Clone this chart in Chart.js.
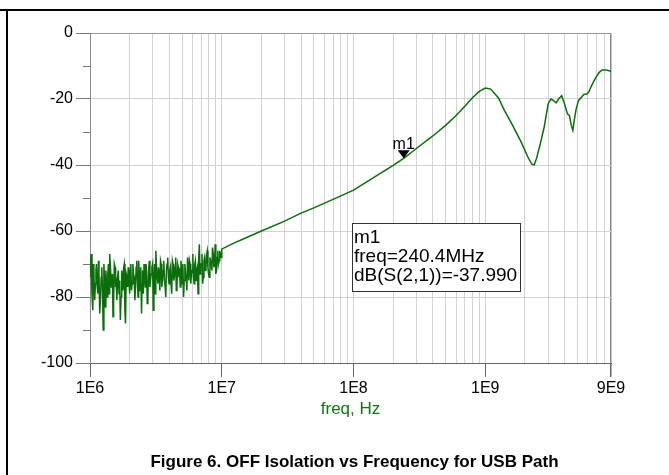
<!DOCTYPE html>
<html>
<head>
<meta charset="utf-8">
<title>OFF Isolation vs Frequency</title>
<script src="https://cdn.jsdelivr.net/npm/chart.js@4/dist/chart.umd.min.js"></script>
<style>
  body { margin: 0; background: #fff; }
  #wrap { position: relative; width: 669px; height: 475px; overflow: hidden; }
  #topline { position: absolute; left: 0; top: 9px; width: 669px; height: 2px; background: #000; }
  #leftline { position: absolute; left: 6px; top: 9px; width: 2px; height: 470px; background: #000; }
  #caption { position: absolute; left: 20px; top: 452px; width: 669px; text-align: center;
             font: bold 17px "Liberation Sans", Arial, sans-serif; color: #000; }
  canvas { position: absolute; left: 0; top: 0; }
</style>
</head>
<body>
<div id="wrap">
  <canvas id="chart" width="669" height="475"></canvas>
  <div id="topline"></div>
  <div id="leftline"></div>
  <div id="caption">Figure 6. OFF Isolation vs Frequency for USB Path</div>
</div>
<script>
// noisy low-frequency part, 1 MHz .. 10 MHz
const noiseMHz = [1.00,1.02,1.05,1.07,1.10,1.12,1.15,1.17,1.20,1.23,1.26,1.29,1.32,1.35,1.38,1.41,1.45,1.48,1.51,1.55,
  1.58,1.62,1.66,1.70,1.74,1.78,1.82,1.86,1.91,1.95,2.00,2.04,2.09,2.14,2.19,2.24,2.29,2.34,2.40,2.46,
  2.51,2.57,2.63,2.69,2.75,2.82,2.88,2.95,3.02,3.09,3.16,3.24,3.31,3.39,3.47,3.55,3.63,3.72,3.80,3.89,
  3.98,4.07,4.17,4.27,4.37,4.47,4.57,4.68,4.79,4.90,5.01,5.13,5.25,5.37,5.50,5.62,5.75,5.89,6.03,6.17,
  6.31,6.46,6.61,6.76,6.92,7.08,7.24,7.41,7.59,7.76,7.94,8.13,8.32,8.51,8.71,8.91,9.12,9.33,9.55,9.77,10.0];
const noiseDb = [-68,-67,-84,-72,-76,-70,-79,-73,-81,-71,-90,-75,-72,-80,-70,-67,-77,-73,-82,-71,
  -76,-74,-79,-87,-72,-78,-70,-88,-74,-71,-79,-70,-76,-73,-81,-71,-75,-69,-78,-85,
  -72,-70,-77,-73,-80,-69,-75,-71,-84,-70,-66,-74,-71,-78,-70,-75,-69,-77,-72,-68,
  -76,-71,-79,-70,-74,-68,-77,-71,-73,-69,-76,-80,-70,-74,-68,-75,-70,-73,-67,-76,
  -69,-72,-79,-64,-70,-67,-74,-68,-71,-66,-73,-68,-70,-65,-71,-64,-72,-66,-69,-67,-65.5];

// extra noise samples lying between the ones above
const noiseMidMHz = [1.01,1.035,1.06,1.085,1.11,1.135,1.16,1.185,1.215,1.245,1.275,1.305,1.335,1.365,1.395,1.43,1.465,1.495,1.53,1.565,
  1.60,1.64,1.68,1.72,1.76,1.80,1.84,1.885,1.93,1.975,2.02,2.065,2.115,2.165,2.215,2.265,2.315,2.37,2.43,2.485,
  2.54,2.60,2.66,2.72,2.785,2.85,2.915,2.985,3.055,3.125,3.20,3.275,3.35,3.43,3.51,3.59,3.675,3.76,3.845,3.935,
  4.025,4.12,4.22,4.32,4.42,4.52,4.625,4.735,4.845,4.955,5.07,5.19,5.31,5.435,5.56,5.685,5.82,5.96,6.10,6.24,
  6.385,6.535,6.685,6.84,7.00,7.16,7.325,7.50,7.675,7.85,8.035,8.225,8.415,8.61,8.81,9.015,9.225,9.44,9.66,9.885];
const noiseMidDb = [-74,-79,-70,-81,-72,-77,-69,-85,-74,-78,-70,-83,-76,-73,-79,-71,-75,-86,-70,-77,
  -81,-72,-75,-80,-74,-71,-84,-73,-77,-75,-72,-78,-70,-74,-77,-69,-80,-73,-71,-76,
  -79,-74,-70,-82,-72,-77,-73,-70,-75,-79,-71,-76,-73,-69,-77,-72,-75,-80,-70,-74,
  -72,-76,-69,-75,-71,-78,-70,-74,-77,-72,-70,-75,-73,-78,-71,-69,-76,-72,-74,-70,
  -75,-71,-68,-73,-70,-76,-69,-72,-67,-71,-74,-69,-72,-67,-70,-73,-68,-70,-66,-68];

// smooth part above 10 MHz
const curveMHz = [12,15,20,30,40,50,70,100,150,200,240.4,300,400,500,600,700,800,900,1000,1100,
  1260,1400,1580,1870,2100,2250,2350,2450,2600,2800,3000,3150,3300,3450,3600,3800,4000,4200,4350,4500,
  4620,4750,4900,5100,5400,5600,5900,6100,6400,6800,7300,7700,8300,9000];
const curveDb = [-63.9,-62.2,-60.0,-57.0,-54.6,-53.0,-50.4,-47.6,-43.2,-40.1,-37.99,-35.0,-31.2,-28.0,-25.0,-22.2,-19.6,-17.7,-16.7,-17.0,
  -19.7,-23.5,-27.3,-33.0,-37.5,-39.7,-40.0,-38.0,-34.0,-28.5,-21.5,-20.0,-20.5,-21.2,-20.0,-19.0,-21.5,-24.5,-25.0,-28.0,
  -29.5,-26.0,-23.0,-20.5,-19.3,-18.6,-18.5,-17.9,-16.0,-14.0,-12.0,-11.2,-11.2,-11.6];

const markerName = 'm1';
const markerMHz = 240.4;
const markerDb = -37.990;

const yTicks = [0, -20, -40, -60, -80, -100];
const yMinorTicks = [-10, -30, -50, -70, -90];
const xLabelValues = [1e6, 1e7, 1e8, 1e9, 9e9];
const xTickLabels = ['1E6', '1E7', '1E8', '1E9', '9E9'];

let points = [];
noiseMHz.forEach((f, i) => points.push({ x: f * 1e6, y: noiseDb[i] }));
noiseMidMHz.forEach((f, i) => points.push({ x: f * 1e6, y: noiseMidDb[i] }));
curveMHz.forEach((f, i) => points.push({ x: f * 1e6, y: curveDb[i] }));
points.sort((a, b) => a.x - b.x);

// grid positions 1..9 per decade (9E9 is the last one)
const xGrid = [];
[1e6, 1e7, 1e8, 1e9].forEach(d => { for (let m = 1; m <= 9; m++) xGrid.push(m * d); });

const FONT = '"Liberation Sans", Arial, sans-serif';

// short minor ticks on the left axis
const minorTicks = {
  id: 'minorTicks',
  afterDraw(chart) {
    const ctx = chart.ctx, ys = chart.scales.y;
    const x0 = chart.chartArea.left;
    ctx.save();
    ctx.strokeStyle = '#777';
    ctx.lineWidth = 1;
    yMinorTicks.forEach(v => {
      const y = Math.round(ys.getPixelForValue(v)) + 0.5;
      ctx.beginPath();
      ctx.moveTo(x0 - 7, y);
      ctx.lineTo(x0, y);
      ctx.stroke();
    });
    ctx.restore();
  }
};

const markerPlugin = {
  id: 'marker',
  afterDatasetsDraw(chart) {
    const ctx = chart.ctx;
    const xs = chart.scales.x, ys = chart.scales.y;
    const px = xs.getPixelForValue(markerMHz * 1e6);
    const py = ys.getPixelForValue(markerDb);
    ctx.save();
    ctx.fillStyle = '#000';
    ctx.beginPath();
    ctx.moveTo(px, py);
    ctx.lineTo(px - 6, py - 8);
    ctx.lineTo(px + 6, py - 8);
    ctx.closePath();
    ctx.fill();
    ctx.font = '16px ' + FONT;
    ctx.textAlign = 'center';
    ctx.textBaseline = 'alphabetic';
    ctx.fillText(markerName, px, py - 9);

    // readout box
    const bx = 352, by = 223, bw = 168, bh = 68;
    ctx.fillStyle = '#fff';
    ctx.fillRect(bx, by, bw, bh);
    ctx.strokeStyle = '#333';
    ctx.lineWidth = 1;
    ctx.strokeRect(bx + 0.5, by + 0.5, bw, bh);
    ctx.fillStyle = '#000';
    ctx.font = '19px ' + FONT;
    ctx.textAlign = 'left';
    ctx.fillText(markerName, bx + 2, by + 20);
    ctx.fillText('freq=' + markerMHz.toFixed(1) + 'MHz', bx + 2, by + 39);
    ctx.fillText('dB(S(2,1))=' + markerDb.toFixed(3), bx + 2, by + 58);
    ctx.restore();
  }
};

new Chart(document.getElementById('chart'), {
  type: 'line',
  data: {
    datasets: [{
      data: points,
      borderColor: '#0b6e0b',
      borderWidth: 1.5,
      pointRadius: 0,
      tension: 0,
      fill: false
    }]
  },
  options: {
    responsive: false,
    animation: false,
    devicePixelRatio: 1,
    layout: { padding: { left: 0, top: 33, right: 58, bottom: 0 } },
    plugins: { legend: { display: false }, tooltip: { enabled: false } },
    scales: {
      x: {
        type: 'logarithmic',
        min: 1e6,
        max: 9e9,
        afterFit(s) { s.height = 112; },
        afterBuildTicks(s) { s.ticks = xGrid.map(v => ({ value: v })); },
        ticks: {
          autoSkip: false,
          maxRotation: 0,
          padding: 2,
          color: '#000',
          font: { family: FONT, size: 16 },
          callback(v) {
            const i = xLabelValues.indexOf(v);
            return i >= 0 ? xTickLabels[i] : '';
          }
        },
        grid: {
          tickLength: 14,
          color: c => (c.tick && c.tick.value === 9e9) ? '#888' : '#d2d2d2',
          lineWidth: c => (c.tick && c.tick.value === 9e9) ? 1.5 : 1,
          tickColor: c => (c.tick && xLabelValues.includes(c.tick.value)) ? '#666' : 'rgba(0,0,0,0)'
        },
        border: { color: '#666', width: 1 },
        title: {
          display: true,
          text: 'freq, Hz',
          color: '#127512',
          font: { family: FONT, size: 17 },
          padding: { top: 0, bottom: 55 }
        }
      },
      y: {
        min: -100,
        max: 0,
        afterFit(s) { s.width = 90; },
        afterBuildTicks(s) { s.ticks = yTicks.map(v => ({ value: v })); },
        ticks: {
          padding: 3,
          color: '#000',
          font: { family: FONT, size: 16 },
          callback: v => String(v)
        },
        grid: {
          tickLength: 14,
          color: c => (c.tick && c.tick.value === 0) ? '#999' : '#d2d2d2',
          tickColor: '#777'
        },
        border: { color: '#888', width: 1 }
      }
    }
  },
  plugins: [markerPlugin, minorTicks]
});
</script>
</body>
</html>
